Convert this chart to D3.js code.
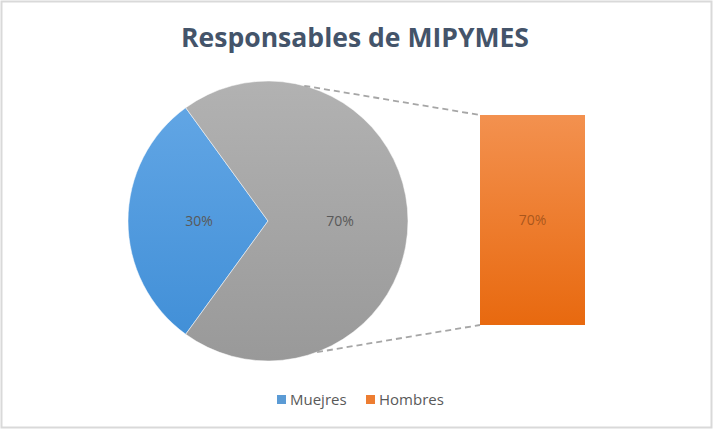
<!DOCTYPE html>
<html><head><meta charset="utf-8">
<script src="https://cdn.jsdelivr.net/npm/d3@7"></script>
<style>html,body{margin:0;padding:0;background:#fff;}svg{display:block;}</style>
</head><body>
<script>
// Data
const title = "Responsables de MIPYMES";
const pieCategories = ["Muejres", "Otro"];
const pieValues = [30, 70];
const barCategories = ["Hombres"];
const barValues = [70];
const legendLabels = ["Muejres", "Hombres"];

const W = 714, H = 430;
const svg = d3.select("body").append("svg").attr("width", W).attr("height", H);
const defs = svg.append("defs");
function grad(id, c1, c2) {
  const g = defs.append("linearGradient").attr("id", id).attr("x1", 0).attr("y1", 0).attr("x2", 0).attr("y2", 1);
  g.append("stop").attr("offset", "0%").attr("stop-color", c1);
  g.append("stop").attr("offset", "100%").attr("stop-color", c2);
}
grad("gBlue", "#65A8E6", "#3E8DD6");
grad("gGray", "#B2B2B2", "#999999");
grad("gOrange", "#F3914F", "#E8690F");

svg.append("rect").attr("x", 1.5).attr("y", 1.5).attr("width", W - 4).attr("height", H - 4)
  .attr("fill", "#fff").attr("stroke", "#D9D9D9").attr("stroke-width", 2);

// Title
const t = svg.append("text").attr("x", 355).attr("y", 47).attr("text-anchor", "middle")
  .attr("font-family", "'Open Sans', sans-serif").attr("font-weight", "bold")
  .attr("font-size", 26).attr("fill", "#44546A").text(title);
const tw = t.node().getComputedTextLength();
t.attr("font-size", 26 * 348 / tw);

// Pie
const cx = 268, cy = 221, R = 140;
const startA = 216 * Math.PI / 180;
const pie = d3.pie().sort(null).value(d => d).startAngle(startA).endAngle(startA + 2 * Math.PI);
const arcs = pie(pieValues);
const arc = d3.arc().innerRadius(0).outerRadius(R);
const gp = svg.append("g").attr("transform", `translate(${cx},${cy})`);
const fills = ["url(#gBlue)", "url(#gGray)"];
defs.select("#gBlue").attr("gradientUnits", "userSpaceOnUse").attr("y1", -R).attr("y2", R).attr("x1", 0).attr("x2", 0);
defs.select("#gGray").attr("gradientUnits", "userSpaceOnUse").attr("y1", -R).attr("y2", R).attr("x1", 0).attr("x2", 0);
gp.selectAll("path").data(arcs).join("path").attr("d", arc).attr("fill", (d, i) => fills[i])
  .attr("stroke", "#fff").attr("stroke-width", 0.5);
const fmt = d3.format(".0%");
const total = d3.sum(pieValues);
gp.selectAll("text").data(arcs).join("text")
  .attr("transform", (d, i) => `translate(${i === 0 ? -69 : 72},${5})`)
  .attr("text-anchor", "middle").attr("font-family", "'Open Sans', sans-serif")
  .attr("font-size", 14).attr("fill", "#595959").text(d => fmt(d.value / total));

// Bar
const bx = 480, bw = 105, barTop = 115, barBottom = 325;
const y = d3.scaleLinear().domain([0, d3.sum(barValues)]).range([barBottom, barTop]);
const xb = d3.scaleBand().domain(barCategories).range([bx, bx + bw]).padding(0);
svg.selectAll("rect.bar").data(barValues).join("rect").attr("class", "bar")
  .attr("x", (d, i) => xb(barCategories[i])).attr("width", xb.bandwidth())
  .attr("y", d => y(d)).attr("height", d => y(0) - y(d)).attr("fill", "url(#gOrange)");
svg.selectAll("text.bl").data(barValues).join("text").attr("class", "bl")
  .attr("x", (d, i) => xb(barCategories[i]) + xb.bandwidth() / 2).attr("y", d => (y(d) + y(0)) / 2 + 5)
  .attr("text-anchor", "middle").attr("font-family", "'Open Sans', sans-serif")
  .attr("font-size", 14).attr("fill", "#8B4513").attr("fill-opacity", 0.7).text(d => fmt(d / 100));

// Connectors
const aTop = 15 * Math.PI / 180, aBot = 159.5 * Math.PI / 180;
const pt = a => [cx + R * Math.sin(a), cy - R * Math.cos(a)];
const conn = [[pt(aTop), [bx, y(barValues[0])]], [pt(aBot), [bx, y(0)]]];
svg.selectAll("line.conn").data(conn).join("line").attr("class", "conn")
  .attr("x1", d => d[0][0]).attr("y1", d => d[0][1]).attr("x2", d => d[1][0]).attr("y2", d => d[1][1])
  .attr("stroke", "#A6A6A6").attr("stroke-width", 1.8).attr("stroke-dasharray", "6,4");

// Legend
const legColors = ["#5B9BD5", "#ED7D31"];
const lx = [277, 366];
const lg = svg.append("g");
legendLabels.forEach((l, i) => {
  lg.append("rect").attr("x", lx[i]).attr("y", 395).attr("width", 9).attr("height", 9).attr("fill", legColors[i]);
  lg.append("text").attr("x", lx[i] + 13).attr("y", 405).attr("font-family", "'Open Sans', sans-serif")
    .attr("font-size", 15).attr("fill", "#595959").text(l);
});
</script>
</body></html>
